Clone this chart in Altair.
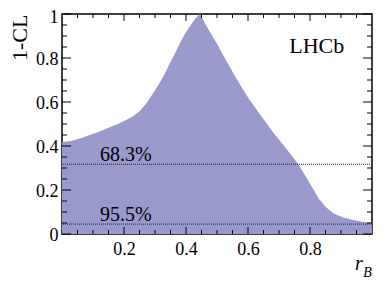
import altair as alt
import pandas as pd

# ---- data ----
r_vals = [0.0, 0.03, 0.06, 0.09, 0.12, 0.15, 0.18, 0.21, 0.23, 0.25, 0.27, 0.29,
          0.31, 0.33, 0.35, 0.37, 0.39, 0.41, 0.43, 0.445, 0.47, 0.50,
          0.525, 0.555, 0.585, 0.605, 0.63, 0.655, 0.68, 0.705, 0.735, 0.76, 0.785,
          0.81, 0.83, 0.85, 0.875, 0.905, 0.94, 0.97, 1.0]
cl_vals = [0.418, 0.423, 0.435, 0.45, 0.465, 0.483, 0.50, 0.52, 0.536, 0.558, 0.59, 0.632,
           0.675, 0.725, 0.782, 0.838, 0.893, 0.94, 0.978, 1.0, 0.935, 0.865,
           0.80, 0.725, 0.655, 0.61, 0.56, 0.512, 0.464, 0.42, 0.367, 0.322, 0.265,
           0.205, 0.158, 0.124, 0.094, 0.076, 0.064, 0.056, 0.05]

x_major = [0.2, 0.4, 0.6, 0.8]
x_minor = [0.05, 0.1, 0.15, 0.25, 0.3, 0.35, 0.45, 0.5, 0.55, 0.65, 0.7, 0.75, 0.85, 0.9, 0.95]
y_major = [0, 0.2, 0.4, 0.6, 0.8, 1.0]
y_minor = [0.05, 0.1, 0.15, 0.25, 0.3, 0.35, 0.45, 0.5, 0.55, 0.65, 0.7, 0.75, 0.85, 0.9, 0.95]

cl_levels = [0.317, 0.045]
cl_labels = ["68.3%", "95.5%"]
cl_label_x = [0.1226, 0.1226]

tag_text = ["LHCb"]
tag_x = [0.733]
tag_y = [0.821]

# ---- layout / style ----
W, H = 310, 220
FONT = "Liberation Serif"
FILL = "#9999cc"

xs = alt.Scale(domain=[0, 1], nice=False, zero=False)
ys = alt.Scale(domain=[0, 1], nice=False, zero=False)

xaxis = alt.Axis(values=x_major, format="~g", ticks=False, domain=False, grid=False,
                 labelFont=FONT, labelFontSize=18, labelColor="black", labelPadding=6,
                 labelFlush=False, title=None)
yaxis = alt.Axis(values=y_major, format="~g", ticks=False, domain=False, grid=False,
                 labelFont=FONT, labelFontSize=18, labelColor="black", labelPadding=4,
                 labelOffset={"condition": {"test": "datum.value >= 1", "value": 3},
                              "value": 1},
                 labelFlush=False, title="1-CL", titleFont=FONT,
                 titleFontSize=22, titleFontWeight="normal", titleColor="black",
                 titleAngle=270, titleX=-36, titleY=0, titleAlign="right",
                 titleBaseline="alphabetic")

X = alt.X("r:Q", scale=xs, axis=xaxis)
Y = alt.Y("cl:Q", scale=ys, axis=yaxis)

curve = pd.DataFrame({"r": r_vals, "cl": cl_vals})
area = alt.Chart(curve).mark_area(color=FILL, opacity=1, interpolate="linear").encode(x=X, y=Y)

levels = pd.DataFrame({"cl": cl_levels, "lab": cl_labels, "r": cl_label_x})
dotted = alt.Chart(levels).mark_rule(color="#222222", strokeWidth=1, strokeDash=[1, 1]).encode(y=Y)
lvl_text = alt.Chart(levels).mark_text(align="left", baseline="alphabetic", dy=-3,
                                       font=FONT, fontSize=20, color="black").encode(
    x=X, y=Y, text="lab:N")

tag = alt.Chart(pd.DataFrame({"r": tag_x, "cl": tag_y, "t": tag_text})).mark_text(
    align="left", baseline="alphabetic", font=FONT, fontSize=22, color="black").encode(
    x=X, y=Y, text="t:N")

def xticks(vals, length):
    d = pd.DataFrame({"r": vals})
    bot = alt.Chart(d).mark_rule(color="black", strokeWidth=1).encode(
        x=X, y=alt.value(H), y2=alt.value(H - length))
    top = alt.Chart(d).mark_rule(color="black", strokeWidth=1).encode(
        x=X, y=alt.value(0), y2=alt.value(length))
    return [bot, top]

def yticks(vals, length):
    d = pd.DataFrame({"cl": vals})
    left = alt.Chart(d).mark_rule(color="black", strokeWidth=1).encode(
        y=Y, x=alt.value(0), x2=alt.value(length))
    right = alt.Chart(d).mark_rule(color="black", strokeWidth=1).encode(
        y=Y, x=alt.value(W), x2=alt.value(W - length))
    return [left, right]

xtitle_r = alt.Chart(pd.DataFrame({"r": [0.945], "t": ["r"]})).mark_text(
    align="left", baseline="alphabetic", font=FONT, fontSize=20, fontStyle="italic",
    color="black").encode(x=X, y=alt.value(256), text="t:N")
xtitle_b = alt.Chart(pd.DataFrame({"r": [0.972], "t": ["B"]})).mark_text(
    align="left", baseline="alphabetic", font=FONT, fontSize=14, fontStyle="italic",
    color="black").encode(x=X, y=alt.value(262.5), text="t:N")

layers = [area, dotted, lvl_text, tag] + xticks(x_major, 7) + xticks(x_minor, 4) \
    + yticks(y_major, 9) + yticks(y_minor, 5) + [xtitle_r, xtitle_b]

chart = alt.layer(*layers).properties(
    width=W, height=H,
    autosize=alt.AutoSizeParams(type="none"),
    padding={"left": 54, "top": 6, "right": 10, "bottom": 44},
    background="white",
).configure_view(stroke="black", strokeWidth=1.5)

chart.save("out.html", embed_options={"renderer": "svg", "actions": False})
